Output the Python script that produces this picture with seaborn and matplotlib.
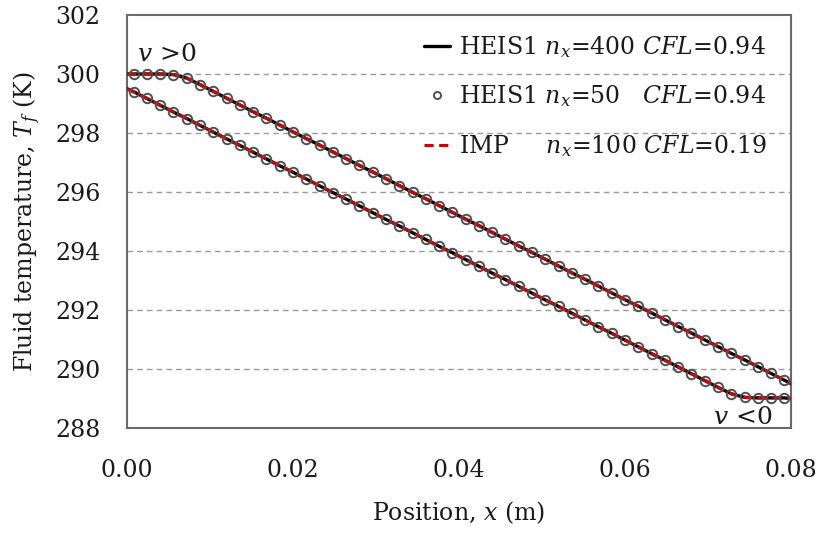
import numpy as np
import pandas as pd
import matplotlib
matplotlib.use("Agg")
import matplotlib.pyplot as plt
import seaborn as sns

# Domain and grid
length = 0.08
n_cells = 50
x_cells = (np.arange(n_cells) + 0.5) * (length / n_cells)

# Fluid temperature at cell centres, flow in +x direction (v > 0)
t_pos = [300.00, 300.00, 300.00, 299.98, 299.86, 299.64, 299.41, 299.18, 298.95, 298.72,
         298.50, 298.27, 298.04, 297.81, 297.59, 297.36, 297.13, 296.90, 296.68, 296.45,
         296.22, 295.99, 295.77, 295.54, 295.31, 295.08, 294.86, 294.63, 294.40, 294.17,
         293.95, 293.72, 293.49, 293.26, 293.04, 292.81, 292.58, 292.35, 292.13, 291.90,
         291.67, 291.44, 291.22, 290.99, 290.76, 290.53, 290.31, 290.08, 289.85, 289.62]

# Fluid temperature at cell centres, flow in -x direction (v < 0)
t_neg = [299.40, 299.17, 298.94, 298.71, 298.49, 298.26, 298.03, 297.80, 297.58, 297.35,
         297.12, 296.89, 296.67, 296.44, 296.21, 295.98, 295.76, 295.53, 295.30, 295.07,
         294.85, 294.62, 294.39, 294.16, 293.94, 293.71, 293.48, 293.25, 293.03, 292.80,
         292.57, 292.34, 292.12, 291.89, 291.66, 291.43, 291.21, 290.98, 290.75, 290.52,
         290.30, 290.07, 289.84, 289.61, 289.38, 289.16, 289.04, 289.02, 289.02, 289.02]

# Boundary values (x = 0 and x = L) for the fine-resolution profiles
t_pos_ends = [300.00, 289.50]
t_neg_ends = [299.50, 289.00]

x_ticks = [0.00, 0.02, 0.04, 0.06, 0.08]
y_ticks = [288, 290, 292, 294, 296, 298, 300, 302]

labels = ["HEIS1 $n_x$=400 $CFL$=0.94",
          "HEIS1 $n_x$=50   $CFL$=0.94",
          "IMP     $n_x$=100 $CFL$=0.19"]

sns.set_theme(style="white")
plt.rcParams["font.family"] = ["DejaVu Serif"]
plt.rcParams["mathtext.fontset"] = "dejavuserif"

FS = 17.0
TXT = "#1a1a1a"

fig = plt.figure(figsize=(8.21, 5.35), dpi=100)
ax = fig.add_axes([127 / 821, 1 - 428 / 535, (791 - 127) / 821, (428 - 15) / 535])

x_line = np.concatenate([[0.0], x_cells, [length]])
prof = pd.DataFrame({
    "x": np.concatenate([x_line, x_line]),
    "T": np.concatenate([[t_pos_ends[0]], t_pos, [t_pos_ends[1]],
                         [t_neg_ends[0]], t_neg, [t_neg_ends[1]]]),
    "case": ["pos"] * len(x_line) + ["neg"] * len(x_line),
})
cells = pd.DataFrame({
    "x": np.concatenate([x_cells, x_cells]),
    "T": np.concatenate([t_pos, t_neg]),
    "case": ["pos"] * n_cells + ["neg"] * n_cells,
})

for k, case in enumerate(["pos", "neg"]):
    d = prof[prof["case"] == case]
    sns.lineplot(data=d, x="x", y="T", ax=ax, color="black", lw=2.4,
                 sort=False, estimator=None, zorder=3,
                 label=labels[0] if k == 0 else None)
for k, case in enumerate(["pos", "neg"]):
    d = prof[prof["case"] == case]
    sns.lineplot(data=d, x="x", y="T", ax=ax, color="#d00000", lw=2.2,
                 dashes=False, linestyle=(0, (3.0, 1.8)),
                 sort=False, estimator=None, zorder=4,
                 label=labels[2] if k == 0 else None)
for k, case in enumerate(["pos", "neg"]):
    d = cells[cells["case"] == case]
    sns.lineplot(data=d, x="x", y="T", ax=ax, linestyle="", marker="o",
                 markersize=6.8, markerfacecolor="none", markeredgecolor="#505050",
                 markeredgewidth=1.4, sort=False, estimator=None, zorder=5,
                 label=labels[1] if k == 0 else None)

h, l = ax.get_legend_handles_labels()
order = [l.index(lab) for lab in labels]
leg = ax.legend([h[i] for i in order], [l[i] for i in order],
                loc="upper right", bbox_to_anchor=(0.991, 1.0), frameon=False,
                fontsize=FS, handlelength=1.1, handletextpad=0.35,
                labelspacing=1.0, borderaxespad=0.4, markerscale=0.75)
for t in leg.get_texts():
    t.set_color(TXT)

ax.set_xlim(0, 0.08)
ax.set_ylim(288, 302)
ax.set_xticks(x_ticks)
ax.set_yticks(y_ticks)
ax.set_xticklabels([f"{v:.2f}" for v in x_ticks], fontsize=FS, color=TXT)
ax.set_yticklabels([str(v) for v in y_ticks], fontsize=FS, color=TXT)
ax.tick_params(axis="both", direction="in", length=7, width=1.0, color="#888888")
ax.tick_params(axis="y", pad=19)
ax.tick_params(axis="x", pad=22)

for yv in y_ticks[1:-1]:
    ax.axhline(yv, color="#9a9a9a", lw=1.0, ls=(0, (4, 3)), zorder=1)

for s in ax.spines.values():
    s.set_color("#6a6a6a")
    s.set_linewidth(1.5)

ax.set_xlabel("Position, $x$ (m)", fontsize=FS, labelpad=13, color=TXT)
ax.set_ylabel("Fluid temperature, $T_f$ (K)", fontsize=FS, labelpad=9, color=TXT)

ax.text(0.0012, 300.45, "$v$ >0", fontsize=FS + 1, ha="left", va="baseline", color=TXT)
ax.text(0.0778, 288.15, "$v$ <0", fontsize=FS + 1, ha="right", va="baseline", color=TXT)

fig.savefig("out.png", dpi=100)
